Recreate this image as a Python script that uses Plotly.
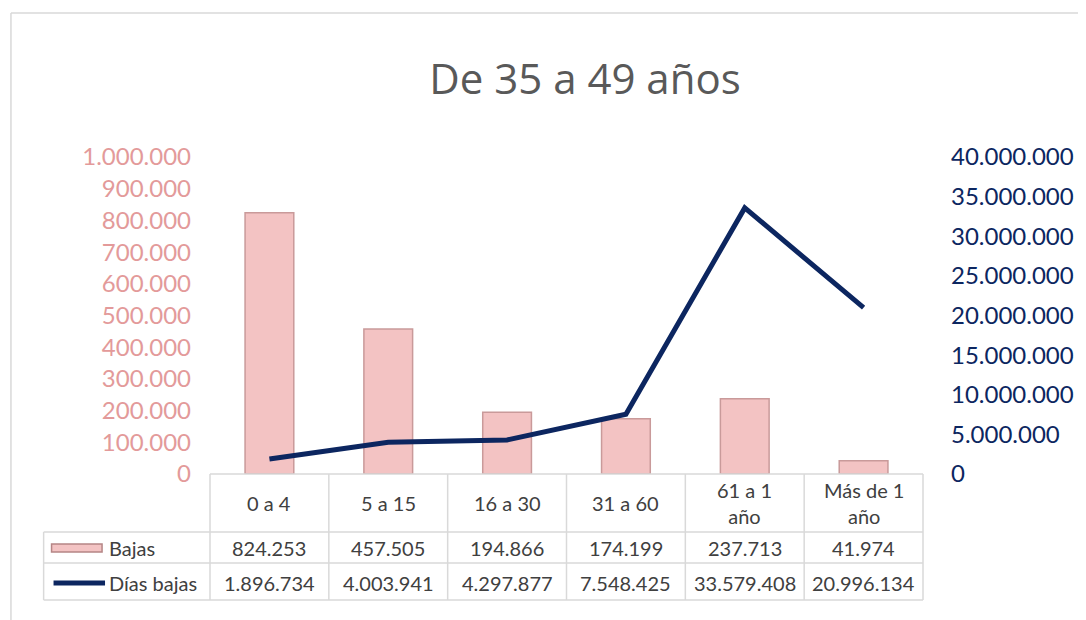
import plotly.graph_objects as go

categories = ["0 a 4", "5 a 15", "16 a 30", "31 a 60", "61 a 1<br>año", "Más de 1<br>año"]
bajas = [824253, 457505, 194866, 174199, 237713, 41974]
dias_bajas = [1896734, 4003941, 4297877, 7548425, 33579408, 20996134]
bajas_txt = ["824.253", "457.505", "194.866", "174.199", "237.713", "41.974"]
dias_txt = ["1.896.734", "4.003.941", "4.297.877", "7.548.425", "33.579.408", "20.996.134"]

W, H = 1078, 612
OFF = 8  # page body margin offset
L, R, T, B = 210 - OFF, 930 - OFF, 157 - OFF, 474 - OFF
idx = list(range(len(categories)))

def px(xs):
    return (xs - OFF - L) / (R - L)

def py(ys):
    return (B - (ys - OFF)) / (B - T)

fig = go.Figure()
fig.add_trace(go.Bar(x=idx, y=bajas, name="Bajas", width=0.41,
                     marker=dict(color="#F3C3C3", line=dict(color="#C99A9A", width=1.5)),
                     yaxis="y", showlegend=False))
fig.add_trace(go.Scatter(x=idx, y=dias_bajas, name="Días bajas", mode="lines",
                         line=dict(color="#0C2660", width=5), yaxis="y2", showlegend=False))

grid = "#D9D9D9"
txtc = "#404040"
font_t = "Lato, 'Open Sans', sans-serif"
fs = 20
shapes = []
ann = []

# outer frame (top and left edges)
shapes.append(dict(type="line", xref="paper", yref="paper", x0=px(9), x1=px(1100), y0=py(13), y1=py(13),
                   line=dict(color=grid, width=1.5), layer="below"))
shapes.append(dict(type="line", xref="paper", yref="paper", x0=px(9), x1=px(9), y0=py(13), y1=py(625),
                   line=dict(color=grid, width=1.5), layer="below"))

rows_y = [474, 532, 563, 600]
shapes.append(dict(type="line", xref="paper", yref="paper", x0=px(210), x1=px(930), y0=py(474), y1=py(474), line=dict(color=grid, width=1.5)))
for yv in rows_y[1:]:
    shapes.append(dict(type="line", xref="paper", yref="paper", x0=px(42), x1=px(930), y0=py(yv), y1=py(yv), line=dict(color=grid, width=1.5)))
for i in range(len(categories) + 1):
    xv = 210 + 120 * i
    shapes.append(dict(type="line", xref="paper", yref="paper", x0=px(xv), x1=px(xv), y0=py(474), y1=py(600), line=dict(color=grid, width=1.5)))
shapes.append(dict(type="line", xref="paper", yref="paper", x0=px(42), x1=px(42), y0=py(532), y1=py(600), line=dict(color=grid, width=1.5)))

# legend keys
shapes.append(dict(type="rect", xref="paper", yref="paper", x0=px(50), x1=px(101), y0=py(552), y1=py(544),
                   fillcolor="#F3C3C3", line=dict(color="#B58585", width=1.5)))
shapes.append(dict(type="line", xref="paper", yref="paper", x0=px(52), x1=px(104), y0=py(583), y1=py(583),
                   line=dict(color="#0C2660", width=5)))
ann.append(dict(text="Bajas", xref="paper", yref="paper", x=px(106), y=py(548), xanchor="left", yanchor="middle",
                showarrow=False, font=dict(size=fs, color=txtc, family=font_t)))
ann.append(dict(text="Días bajas", xref="paper", yref="paper", x=px(106), y=py(583), xanchor="left", yanchor="middle",
                showarrow=False, font=dict(size=fs, color=txtc, family=font_t)))

for i, c in enumerate(categories):
    ann.append(dict(text=c, xref="x", yref="paper", x=i, y=py(503), xanchor="center", yanchor="middle",
                    showarrow=False, font=dict(size=fs, color=txtc, family=font_t)))
    ann.append(dict(text=bajas_txt[i], xref="x", yref="paper", x=i, y=py(548), xanchor="center", yanchor="middle",
                    showarrow=False, font=dict(size=fs, color=txtc, family=font_t)))
    ann.append(dict(text=dias_txt[i], xref="x", yref="paper", x=i, y=py(583), xanchor="center", yanchor="middle",
                    showarrow=False, font=dict(size=fs, color=txtc, family=font_t)))

fig.update_layout(
    width=W, height=H,
    margin=dict(l=L, r=W - R, t=T, b=H - B, pad=0),
    paper_bgcolor="white", plot_bgcolor="white",
    separators=",.",
    title=dict(text="De 35 a 49 años", x=(585 - OFF) / W, xanchor="center", y=1 - (79 - OFF) / H, yanchor="middle",
               font=dict(family="'Comic Sans MS', 'Segoe Print', 'Open Sans', sans-serif", size=42, color="#595959")),
    xaxis=dict(range=[-0.5, 5.5], showticklabels=False, showgrid=False, zeroline=False, ticks="",
               showline=False, fixedrange=True),
    yaxis=dict(range=[0, 1000000], dtick=100000, tickformat=",d", showgrid=False, zeroline=False,
               showline=False, ticks="", ticklabelstandoff=18,
               tickfont=dict(size=24, color="#E39A9A", family=font_t)),
    yaxis2=dict(range=[0, 40000000], dtick=5000000, tickformat=",d", overlaying="y", side="right",
                showgrid=False, zeroline=False, showline=False, ticks="", ticklabelstandoff=27,
                tickfont=dict(size=24, color="#0C2660", family=font_t)),
    shapes=shapes, annotations=ann,
)

fig.write_html("out.html")
